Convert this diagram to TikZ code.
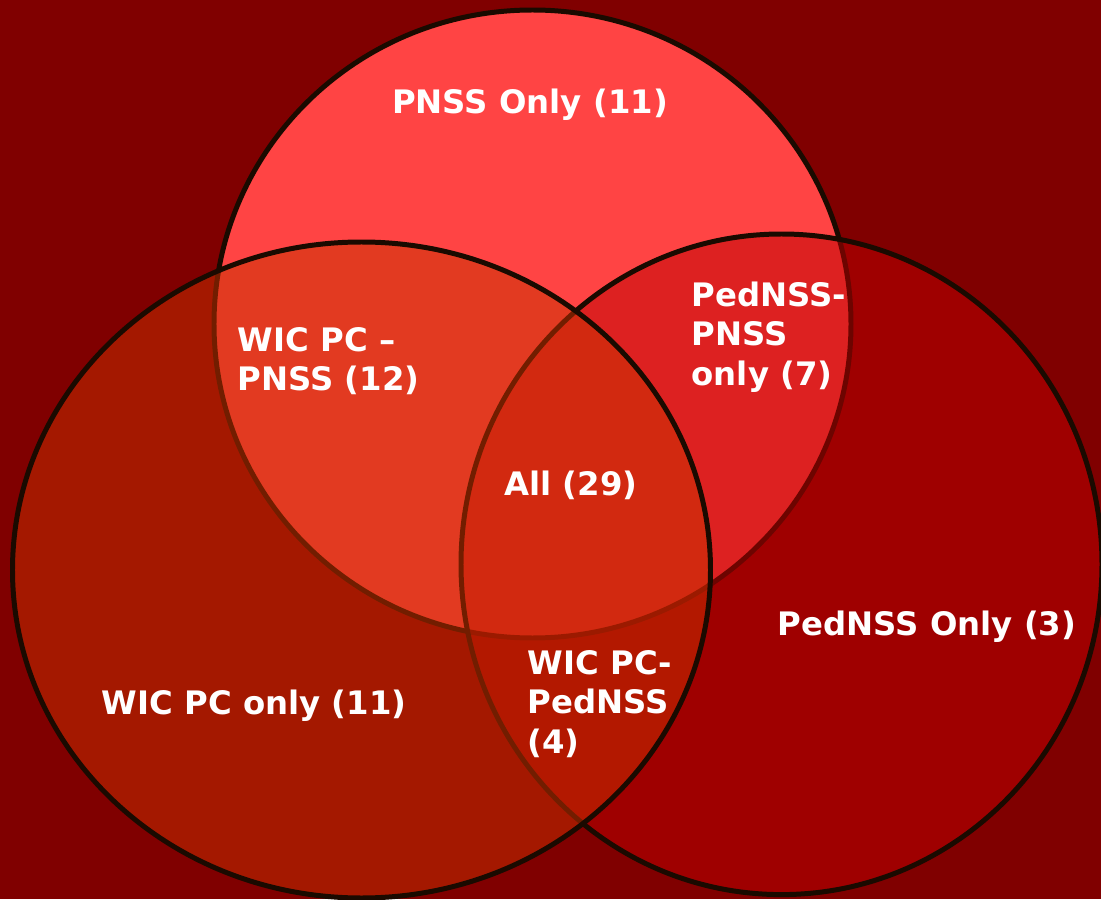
\documentclass[tikz,border=0pt]{standalone}
\usepackage{fontspec}
\setmainfont{DejaVu Sans}
\definecolor{bgred}{RGB}{128,0,0}
\definecolor{pnssfill}{RGB}{255,68,68}
\definecolor{pedfill}{RGB}{190,0,0}
\definecolor{wicfill}{RGB}{200,49,0}
\definecolor{rim}{RGB}{26,10,0}
\tikzset{
  lbl/.style={text=white, inner sep=0pt, font=\bfseries\fontsize{9.2}{11.3}\selectfont},
  rimline/.style={draw=rim, line width=1.42pt}
}

\begin{document}
\begin{tikzpicture}[x=0.1mm, y=0.1mm]
\useasboundingbox (0,0) rectangle (1101,899);
\clip (0,0) rectangle (1101,899);
\fill[bgred] (0,0) rectangle (1101,899);
% PNSS
\fill[pnssfill] (532.5,575) ellipse [x radius=318.5, y radius=314];
\draw[rimline] (532.5,575) ellipse [x radius=318.5, y radius=314];
% PedNSS
\fill[pedfill, fill opacity=0.51] (781.5,334.7) ellipse [x radius=320.5, y radius=330.3];
\draw[rimline] (781.5,334.7) ellipse [x radius=320.5, y radius=330.3];
% WIC PC
\fill[wicfill, fill opacity=0.51] (361.5,329) ellipse [x radius=349, y radius=328];
\draw[rimline] (361.5,329) ellipse [x radius=349, y radius=328];
% labels
\node[lbl] (pnss) at (530,794) {PNSS Only (11)};
\node[lbl, align=left, anchor=west] (wicpnss) at (237,538) {WIC PC –\\PNSS (12)};
\node[lbl, align=left, anchor=west] (pedpnss) at (691,562) {PedNSS-\\PNSS\\only (7)};
\node[lbl] (all) at (571,414) {All (29)};
\node[lbl] (pedonly) at (927,272) {PedNSS Only (3)};
\node[lbl] (wiconly) at (254,193) {WIC PC only (11)};
\node[lbl, align=left, anchor=west] (wicped) at (527,195) {WIC PC-\\PedNSS\\(4)};
\end{tikzpicture}
\end{document}
